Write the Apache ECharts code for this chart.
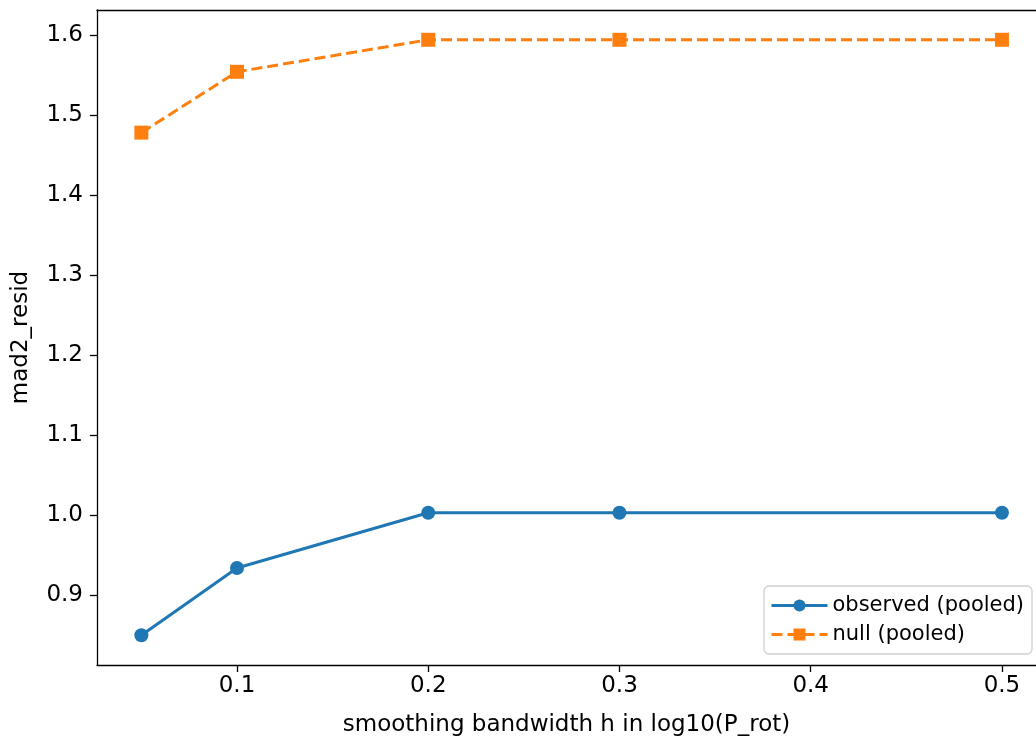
<!DOCTYPE html>
<html>
<head>
<meta charset="utf-8">
<script src="https://cdn.jsdelivr.net/npm/echarts@6/dist/echarts.min.js"></script>
<style>html,body{margin:0;padding:0;background:#fff;}#c{width:1036px;height:743px;}</style>
</head>
<body>
<div id="c"></div>
<script>
const bandwidths = [0.05, 0.1, 0.2, 0.3, 0.5];
const observedPooled = [0.850, 0.934, 1.003, 1.003, 1.003];
const nullPooled = [1.478, 1.554, 1.594, 1.594, 1.594];
const xTicks = [0.1, 0.2, 0.3, 0.4, 0.5];
const yTicks = [0.9, 1.0, 1.1, 1.2, 1.3, 1.4, 1.5, 1.6];

const font = 'DejaVu Sans';
const chart = echarts.init(document.getElementById('c'), null, {renderer: 'canvas'});
chart.setOption({
  animation: false,
  backgroundColor: '#fff',
  grid: {left: 97, top: 10, width: 939, height: 655},
  xAxis: [{
    type: 'value', min: 0.0268, max: 0.5178,
    name: 'smoothing bandwidth h in log10(P_rot)',
    nameLocation: 'middle', nameGap: 49,
    nameTextStyle: {fontFamily: font, fontSize: 23, color: '#000'},
    axisLine: {show: true, onZero: false, lineStyle: {color: '#000', width: 1.3}},
    axisTick: {show: true, inside: false, length: 7, lineStyle: {color: '#000', width: 1.3}, customValues: xTicks},
    axisLabel: {fontFamily: font, fontSize: 23, color: '#000', margin: 10, customValues: xTicks,
      formatter: v => v.toFixed(1)},
    splitLine: {show: false}
  }, {
    type: 'value', position: 'top', min: 0.0268, max: 0.5178,
    axisLine: {show: true, onZero: false, lineStyle: {color: '#000', width: 1.3}},
    axisTick: {show: false}, axisLabel: {show: false}, splitLine: {show: false}
  }],
  yAxis: {
    type: 'value', min: 0.8128, max: 1.6312,
    name: 'mad2_resid',
    nameLocation: 'middle', nameGap: 64,
    nameTextStyle: {fontFamily: font, fontSize: 23, color: '#000'},
    axisLine: {show: true, onZero: false, lineStyle: {color: '#000', width: 1.3}},
    axisTick: {show: true, inside: false, length: 7, lineStyle: {color: '#000', width: 1.3}, customValues: yTicks},
    axisLabel: {fontFamily: font, fontSize: 23, color: '#000', margin: 14, customValues: yTicks,
      formatter: v => v.toFixed(1)},
    splitLine: {show: false}
  },
  legend: {
    left: 764, top: 586,
    orient: 'vertical',
    backgroundColor: '#fff', borderColor: '#d0d0d0', borderWidth: 1.3, borderRadius: 5,
    padding: [9, 8, 9, 6], itemGap: 8,
    itemWidth: 56, itemHeight: 15,
    lineStyle: {width: 3},
    textStyle: {fontFamily: font, fontSize: 21, color: '#000', lineHeight: 21},
    data: ['observed (pooled)', 'null (pooled)']
  },
  series: [
    {
      name: 'observed (pooled)', type: 'line',
      data: bandwidths.map((x, i) => [x, observedPooled[i]]),
      symbol: 'circle', symbolSize: 14,
      itemStyle: {color: '#1f77b4'},
      lineStyle: {color: '#1f77b4', width: 3}
    },
    {
      name: 'null (pooled)', type: 'line',
      data: bandwidths.map((x, i) => [x, nullPooled[i]]),
      symbol: 'rect', symbolSize: 14,
      itemStyle: {color: '#ff7f0e'},
      lineStyle: {color: '#ff7f0e', width: 3, type: [11, 5]}
    }
  ]
});
</script>
</body>
</html>
